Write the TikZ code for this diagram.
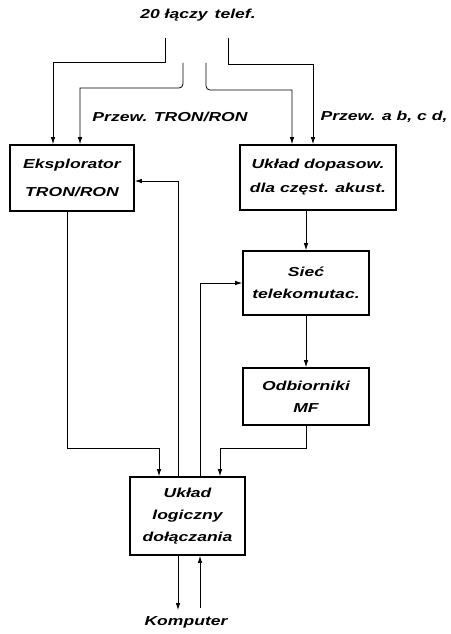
\documentclass[tikz,border=0pt]{standalone}
\usepackage{fontspec}
\newfontfamily\diagfont[FakeStretch=1.35]{Liberation Sans}
\usetikzlibrary{arrows.meta}

\begin{document}
\begin{tikzpicture}[x=1pt, y=-1pt,
      font={\diagfont\bfseries\itshape\fontsize{13}{22}\selectfont},
      box/.style={draw, line width=1.6pt, align=center, inner sep=2pt},
      ar/.style={-{Latex[length=7pt, width=4.5pt]}, line width=0.8pt},
      lbl/.style={inner sep=1pt}]
    \useasboundingbox (0,0) rectangle (450,634);
    \node[lbl] (title) at (198,15) {20 łączy\, telef.};
    \node[box, minimum width=124pt, minimum height=66pt] (eksp) at (72,178) {Eksplorator\\[6pt]TRON/RON};
    \node[box, minimum width=156pt, minimum height=65pt] (dopas) at (318,177.5) {Układ dopasow.\\[2pt]dla częst. akust.};
    \node[box, minimum width=126pt, minimum height=64pt] (siec) at (306,283) {Sieć\\telekomutac.};
    \node[box, minimum width=126pt, minimum height=57pt] (odb) at (306,396.5) {Odbiorniki\\MF};
    \node[box, minimum width=115pt, minimum height=78pt] (logic) at (187.5,516) {Układ\\logiczny\\dołączania};
    \node[lbl] (tron) at (170,117) {Przew. TRON/RON};
    \node[lbl] (abcd) at (384,117) {Przew. a b, c d,};
    \node[lbl] (komp) at (186,622) {Komputer};
    \coordinate (t1) at (165,38);
    \coordinate (t2) at (183,63);
    \coordinate (t3) at (206,63);
    \coordinate (t4) at (228,38);
    \coordinate (kout) at (178,610);
    \coordinate (kin) at (200,608);
    \draw[ar] (t1) -- ++(0,24) -| ([xshift=-19pt]eksp.north);
    \draw[ar, rounded corners=4pt] (t2) -- ++(0,25) [sharp corners] -| ([xshift=8pt]eksp.north);
    \draw[ar, rounded corners=4pt] (t3) -- ++(0,27) [sharp corners] -| ([xshift=-26pt]dopas.north);
    \draw[ar] (t4) -- ++(0,26) -| ([xshift=-5pt]dopas.north);
    \draw[ar] (dopas.south -| siec.north) -- (siec.north);
    \draw[ar] (siec) -- (odb);
    \draw[ar] (odb.south) -- ++(0,23) -| ([xshift=32.5pt]logic.north);
    \draw[ar] ([xshift=-5pt]eksp.south) -- ++(0,237) -| ([xshift=-28.5pt]logic.north);
    \draw[ar] ([xshift=-9.5pt]logic.north) |- ([yshift=-3pt]eksp.east);
    \draw[ar] ([xshift=12.5pt]logic.north) |- (siec.west);
    \draw[ar] ([xshift=-9.5pt]logic.south) -- (kout);
    \draw[ar] (kin) -- ([xshift=12.5pt]logic.south);
  \end{tikzpicture}
\end{document}
